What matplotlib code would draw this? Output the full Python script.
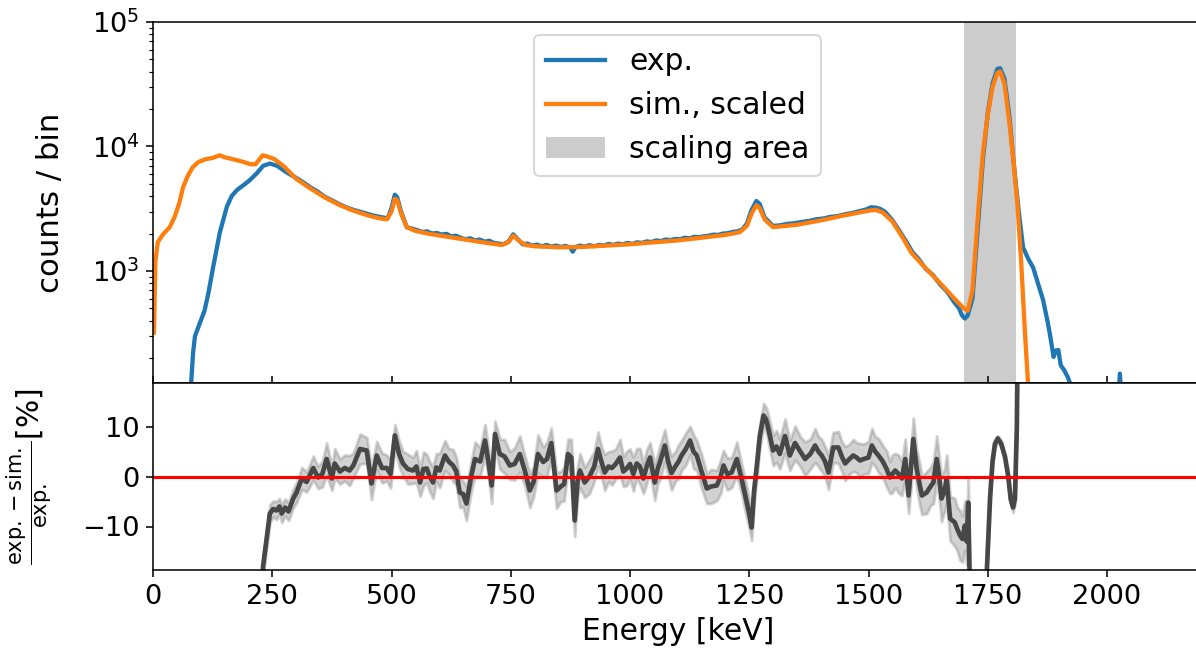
import numpy as np
import matplotlib
matplotlib.use("Agg")
import matplotlib.pyplot as plt

# ---------------- data ----------------
sim_energy = [2, 5, 10, 20, 35, 45, 55, 63, 72, 83, 95, 110, 125, 140, 150, 165, 185, 205,
              215, 222, 230, 240, 255, 275, 300, 330, 360, 390, 420, 450, 475, 490, 500,
              507, 512, 520, 532, 550, 575, 600, 650, 700, 730, 745, 755, 765, 780, 800,
              850, 900, 950, 1000, 1050, 1100, 1150, 1200, 1230, 1245, 1255, 1265, 1272,
              1282, 1300, 1350, 1400, 1450, 1500, 1515, 1530, 1550, 1570, 1590, 1620,
              1650, 1680, 1700, 1708, 1718, 1730, 1740, 1750, 1760, 1770, 1776, 1785,
              1795, 1805, 1812, 1820, 1828, 1836]
sim_counts = [320, 1200, 1700, 1950, 2250, 2700, 3500, 4700, 5700, 6800, 7500, 7900, 8100,
              8500, 8200, 7950, 7600, 7200, 7200, 7800, 8500, 8300, 7900, 6900, 5500, 4600,
              3900, 3400, 3050, 2800, 2650, 2600, 3000, 3800, 3700, 2900, 2250, 2100, 2000,
              1930, 1800, 1680, 1620, 1700, 1920, 1780, 1620, 1580, 1550, 1560, 1600, 1640,
              1700, 1760, 1850, 1950, 2050, 2300, 2900, 3380, 3200, 2600, 2250, 2350, 2550,
              2800, 3050, 3100, 2950, 2500, 1900, 1400, 1050, 800, 600, 500, 480, 700, 3000,
              9000, 18000, 30000, 39000, 40000, 32000, 16000, 7000, 3500, 1200, 320, 100]

exp_energy = [75, 80, 84, 88, 98, 108, 116, 126, 140, 155, 165, 176, 190, 203, 218, 231, 245,
              260, 280, 300, 315, 330, 345, 360, 375, 390, 405, 420, 440, 460, 480, 492, 500,
              507, 512, 520, 532, 545, 555, 565, 575, 585, 595, 605, 615, 625, 635, 645, 655,
              665, 675, 685, 695, 705, 715, 725, 735, 745, 755, 765, 775, 785, 795, 805, 815,
              825, 835, 845, 855, 865, 875, 880, 886, 895, 905, 915, 925, 935, 945, 955, 965,
              975, 985, 995, 1005, 1015, 1025, 1035, 1045, 1055, 1065, 1075, 1085, 1095, 1105,
              1115, 1125, 1135, 1145, 1155, 1165, 1175, 1185, 1195, 1205, 1215, 1225, 1235,
              1245, 1255, 1265, 1272, 1282, 1300, 1315, 1330, 1345, 1360, 1375, 1390, 1405,
              1420, 1435, 1450, 1465, 1480, 1495, 1505, 1515, 1525, 1535, 1550, 1565, 1580,
              1592, 1605, 1620, 1635, 1650, 1665, 1680, 1690, 1696, 1702, 1708, 1718, 1730,
              1740, 1750, 1760, 1770, 1776, 1785, 1795, 1805, 1815, 1824, 1835, 1845, 1855,
              1866, 1875, 1880, 1888, 1893, 1898, 1903, 1910, 1918, 1926, 1935, 2000, 2022,
              2027, 2032, 2100, 2190]
exp_counts = [60, 126, 220, 300, 380, 480, 660, 1070, 2030, 3300, 4000, 4470, 4900, 5370,
              6120, 7000, 7300, 7000, 6200, 5600, 5150, 4700, 4350, 3950, 3700, 3450, 3250,
              3100, 2950, 2800, 2700, 2650, 3200, 4100, 3900, 3000, 2250, 2180, 2120, 2060,
              2080, 2000, 2020, 1960, 1990, 1900, 1920, 1850, 1800, 1830, 1760, 1790, 1720,
              1750, 1680, 1660, 1640, 1720, 1970, 1800, 1640, 1660, 1600, 1630, 1580, 1620,
              1570, 1600, 1560, 1590, 1540, 1430, 1560, 1600, 1570, 1610, 1580, 1620, 1600,
              1650, 1620, 1660, 1640, 1680, 1650, 1700, 1680, 1730, 1710, 1760, 1740, 1790,
              1770, 1810, 1800, 1850, 1830, 1880, 1870, 1900, 1920, 1960, 1950, 2000, 2010,
              2060, 2080, 2150, 2400, 3100, 3650, 3450, 2700, 2300, 2330, 2390, 2420, 2480,
              2520, 2600, 2640, 2720, 2760, 2850, 2920, 3020, 3120, 3250, 3230, 3150, 2980,
              2560, 2100, 1700, 1420, 1250, 1040, 930, 780, 680, 560, 500, 440, 415, 440, 600,
              2500, 8000, 18500, 32000, 42000, 42500, 35000, 18000, 7000, 3000, 1550, 1250,
              1070, 800, 585, 400, 316, 204, 230, 232, 175, 160, 140, 115, 80, 60, 70, 150,
              70, 50, 50]

res_energy = [200, 231, 245, 252, 259, 265, 270, 277, 284, 294,
              301, 312, 322, 336, 346, 355, 364, 375, 381, 392,
              402, 412, 420, 434, 448, 458, 469, 480, 490, 498,
              507, 516, 524, 534, 545, 552, 560, 567, 574, 580,
              587, 594, 601, 612, 620, 629, 636, 643, 650, 657,
              667, 675, 686, 696, 703, 710, 717, 727, 737, 748,
              758, 769, 780, 790, 798, 807, 818, 826, 835, 846,
              855, 862, 870, 877, 884, 890, 895, 905, 915, 925,
              933, 940, 947, 955, 962, 970, 979, 986, 993, 1000,
              1007, 1014, 1021, 1028, 1035, 1042, 1052, 1058, 1063, 1073,
              1080, 1087, 1095, 1102, 1108, 1117, 1126, 1133, 1140, 1150,
              1161, 1170, 1182, 1190, 1196, 1204, 1213, 1224, 1234, 1242,
              1249, 1255, 1260, 1266, 1272, 1280, 1285, 1290, 1300, 1307,
              1314, 1325, 1335, 1346, 1357, 1367, 1378, 1388, 1395, 1402,
              1409, 1416, 1426, 1437, 1444, 1451, 1460, 1468, 1475, 1482,
              1490, 1500, 1507, 1514, 1521, 1530, 1538, 1545, 1550, 1556,
              1563, 1570, 1577, 1584, 1594, 1601, 1607, 1612, 1622, 1630,
              1636, 1643, 1648, 1653, 1659, 1664, 1671, 1681, 1686, 1692,
              1697, 1702, 1706, 1709, 1713, 1720, 1740, 1748, 1755, 1760,
              1765, 1771, 1778, 1786, 1793, 1798, 1803, 1807, 1811, 1816]
res_value = [-60, -17.8, -7.4, -6.5, -6.8, -6.0, -7.4, -6.2, -7.0, -4.4,
             -3.2, -0.4, -1.1, 1.7, -0.2, 0.5, 3.5, -0.4, 2.6, 1.0,
             1.7, 1.2, 2.2, 5.5, 5.2, -1.4, 4.2, 1.7, 1.7, 0.5,
             8.2, 4.5, 2.6, 1.5, 1.2, 2.0, -1.2, 1.5, 1.6, 0.0,
             -1.2, 1.8, 1.2, 4.2, 3.0, 2.2, 1.0, -3.2, -3.5, -5.4,
             0.0, 3.5, 3.0, 7.2, 3.0, -1.8, 8.5, 4.5, 4.0, 2.2,
             2.5, 4.5, 1.0, -2.8, -1.0, 4.5, 2.9, 3.5, 6.7, -2.8,
             -2.0, -1.5, 4.5, 3.8, -8.8, -1.0, 1.2, -1.2, 0.0, 2.0,
             5.5, 3.0, 0.8, 2.0, 1.7, 2.5, 3.8, 1.0, 1.6, 2.5,
             0.5, 2.6, 2.0, -0.4, 2.0, 3.8, -1.2, 1.5, 2.9, 6.2,
             3.0, 0.7, 2.0, 3.0, 4.2, 5.5, 7.2, 5.0, 4.2, 1.0,
             -2.4, -2.0, -1.8, 0.0, 2.2, 0.5, 0.8, 3.5, -0.5, -4.0,
             -7.0, -10.2, -3.0, 2.2, 8.0, 12.2, 11.5, 9.6, 5.2, 6.0,
             4.5, 8.1, 4.2, 6.7, 5.0, 3.5, 4.5, 6.2, 5.0, 4.2,
             3.0, 0.8, 5.8, 5.8, 4.0, 2.6, 3.5, 4.2, 3.8, 3.2,
             3.5, 3.8, 6.2, 5.0, 4.2, 3.0, 1.5, -0.2, 0.5, 1.2,
             0.5, -0.4, 3.5, -3.8, 7.5, 1.6, -1.5, -3.8, -3.2, -2.0,
             -1.2, 3.5, 0.0, -4.4, -3.0, -0.5, -8.4, -9.2, -10.5, -11.8,
             -12.5, -9.8, -13.0, -5.2, -25.0, -60.0, -60.0, -19.0, -4.0, 3.0,
             6.5, 7.6, 6.6, 4.0, 0.0, -4.5, -6.2, -4.5, 10.0, 60.0]
res_error = [2.0, 2.0, 1.8, 1.6, 1.8, 1.6, 1.8, 1.7, 1.8, 1.9,
             2.0, 2.2, 2.0, 2.4, 2.2, 2.6, 3.2, 2.4, 3.0, 2.5,
             2.6, 3.0, 2.5, 3.0, 2.6, 3.2, 2.8, 3.0, 2.6, 2.8,
             2.2, 2.6, 2.4, 3.0, 2.6, 3.2, 2.8, 3.4, 2.8, 3.0,
             3.2, 2.8, 3.4, 3.0, 2.6, 3.2, 2.8, 3.0, 2.6, 3.4,
             3.0, 3.4, 2.8, 3.2, 3.0, 3.6, 2.6, 3.0, 3.4, 2.8,
             3.2, 3.6, 3.0, 3.4, 3.0, 3.8, 3.0, 3.4, 3.0, 3.6,
             3.0, 3.4, 3.0, 3.6, 3.2, 3.0, 3.4, 3.0, 3.4, 3.0,
             3.4, 3.0, 3.6, 3.0, 3.4, 3.0, 3.6, 3.0, 3.4, 3.0,
             3.4, 3.0, 3.6, 3.0, 3.4, 3.0, 3.6, 3.0, 3.4, 3.2,
             3.0, 3.4, 3.0, 3.4, 3.0, 3.2, 2.8, 3.4, 3.0, 3.4,
             3.0, 3.4, 3.0, 3.4, 3.0, 3.2, 3.0, 3.4, 3.0, 3.2,
             3.0, 2.6, 2.6, 2.6, 2.4, 2.4, 2.4, 2.8, 3.0, 3.2,
             3.0, 3.4, 3.0, 3.4, 3.0, 3.4, 3.0, 3.4, 3.0, 3.2,
             3.0, 3.4, 3.0, 3.2, 3.0, 3.4, 3.0, 3.2, 3.0, 3.4,
             3.0, 3.2, 3.4, 3.0, 3.4, 3.2, 3.6, 3.2, 3.8, 3.4,
             3.8, 3.4, 4.0, 3.6, 4.2, 3.8, 4.2, 3.8, 4.2, 3.8,
             4.2, 4.6, 4.2, 4.6, 4.2, 4.8, 4.4, 4.8, 4.4, 5.0,
             4.6, 5.0, 4.6, 5.0, 4.0, 2.0, 1.0, 1.0, 1.0, 0.8,
             0.8, 0.6, 0.6, 0.6, 0.8, 1.0, 1.0, 1.0, 1.0, 1.0]

scaling_area = (1700, 1810)
x_ticks = [0, 250, 500, 750, 1000, 1250, 1500, 1750, 2000]

# ---------------- figure ----------------
plt.rcParams['font.family'] = ['DejaVu Sans']
plt.rcParams['font.size'] = 14

W, H = 1196, 663
fig = plt.figure(figsize=(W / 140, H / 140), dpi=140)
x0 = 153 / W
wid = (1202.4 - 153) / W
ax1 = fig.add_axes([x0, 1 - 383 / H, wid, (383 - 22) / H])
ax2 = fig.add_axes([x0, 1 - 570 / H, wid, (570 - 383) / H], sharex=ax1)

ax1.plot(exp_energy, exp_counts, color='#1f77b4', lw=2.2, label='exp.')
ax1.plot(sim_energy, sim_counts, color='#ff7f0e', lw=2.2, label='sim., scaled')
ax1.axvspan(*scaling_area, color='gray', alpha=0.4, lw=0, label='scaling area')
ax1.set_yscale('log')
ax1.set_ylim(126, 1e5)
ax1.set_ylabel('counts / bin', fontsize=15.8)
ax1.yaxis.set_label_coords(-0.084, 0.5)
ax1.tick_params(axis='x', direction='in', labelbottom=False)
leg = ax1.legend(loc='upper center', fontsize=15.3, borderaxespad=0.45)

e = np.array(res_energy, dtype=float)
r = np.array(res_value, dtype=float)
s = np.array(res_error, dtype=float)
ax2.fill_between(e, r - s, r + s, facecolor='gray', edgecolor='gray', alpha=0.35, lw=1.5)
ax2.plot(e, r, color='#474747', lw=2.4)
ax2.axhline(0, color='red', lw=1.6)
ax2.set_ylim(-18.7, 18.7)
ax2.set_yticks([-10, 0, 10])
ax2.set_xlim(0, 2200)
ax2.set_xticks(x_ticks)
ax2.set_xlabel('Energy [keV]', fontsize=15.3)
ax2.set_ylabel(r'$\frac{\mathrm{exp.}-\mathrm{sim.}}{\mathrm{exp.}}$[%]', fontsize=15.3)
ax2.yaxis.set_label_coords(-0.094, 0.5)

fig.savefig('out.png', dpi=140)
